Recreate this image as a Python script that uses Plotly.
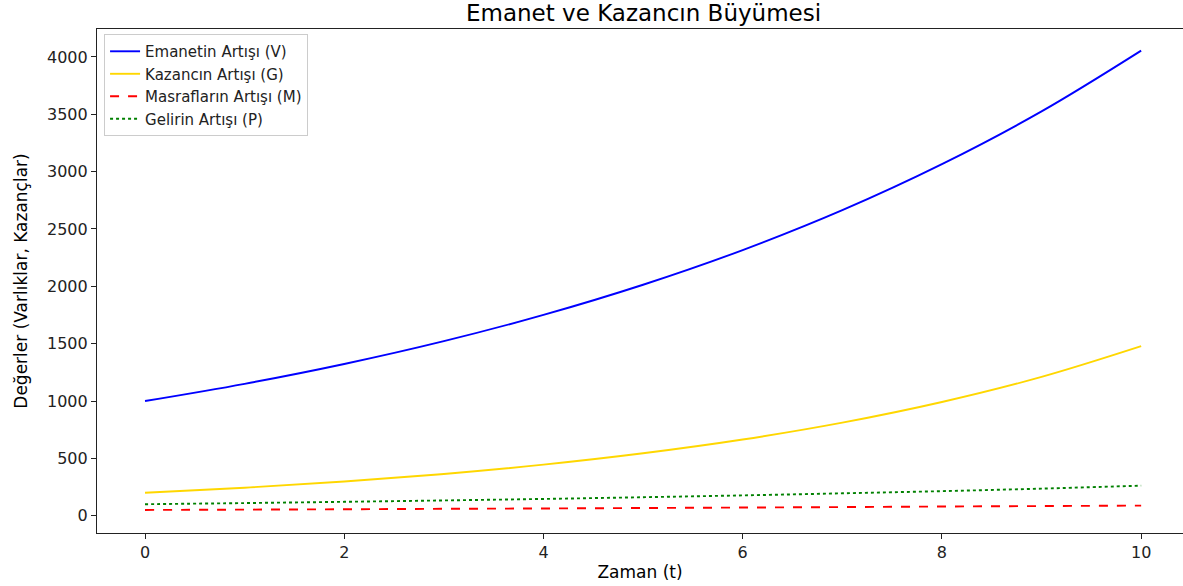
import plotly.graph_objects as go

t = [0, 1, 2, 3, 4, 5, 6, 7, 8, 9, 10]
V = [1000, 1150, 1323, 1522, 1751, 2014, 2316, 2664, 3065, 3525, 4055]
G = [200, 244, 298, 364, 445, 544, 664, 811, 991, 1210, 1478]
M = [50, 53, 56, 60, 63, 67, 71, 75, 80, 84, 88]
P = [100, 110, 121, 133, 146, 161, 177, 195, 214, 236, 262]

names = ["Emanetin Artışı (V)", "Kazancın Artışı (G)", "Masrafların Artışı (M)", "Gelirin Artışı (P)"]
colors = ["#0000ff", "#ffd700", "#ff0000", "#008000"]
dashes = ["solid", "solid", "dash", "dot"]

fig = go.Figure()
for ys, n, c, d in zip([V, G, M, P], names, colors, dashes):
    fig.add_trace(go.Scatter(x=t, y=ys, mode="lines", name=n,
                             line=dict(color=c, width=1.9, dash=d, shape="spline")))

tickfont = dict(family="DejaVu Sans", size=16, color="#222")

fig.update_layout(
    width=1183, height=586,
    margin=dict(l=97, r=0, t=29, b=53),
    paper_bgcolor="white", plot_bgcolor="white",
    font=dict(family="DejaVu Sans", color="black"),
    title=dict(text="Emanet ve Kazancın Büyümesi", x=0.544, xanchor="center",
               y=0.978, yanchor="middle", font=dict(size=23, color="black")),
    xaxis=dict(range=[-0.482, 10.42], tickvals=[0, 2, 4, 6, 8, 10],
               showgrid=False, zeroline=False, showline=True, linecolor="#222",
               linewidth=1.2, mirror=True, ticks="outside", ticklen=5, tickcolor="#222",
               tickfont=tickfont,
               title=dict(text="Zaman (t)", font=dict(size=17), standoff=4)),
    yaxis=dict(range=[-151, 4244], tickvals=[0, 500, 1000, 1500, 2000, 2500, 3000, 3500, 4000],
               showgrid=False, zeroline=False, showline=True, linecolor="#222",
               linewidth=1.2, mirror=False, ticks="outside", ticklen=5, tickcolor="#222",
               tickfont=tickfont,
               title=dict(text="Değerler (Varlıklar, Kazançlar)", font=dict(size=17), standoff=15)),
    legend=dict(x=0.0065, y=0.99, xanchor="left", yanchor="top",
                bgcolor="rgba(255,255,255,0.8)", bordercolor="#cccccc", borderwidth=1,
                font=dict(size=15, color="#222"), tracegroupgap=0),
    showlegend=True,
)

fig.write_html("out.html", config={"displayModeBar": False},
               post_script="document.body.style.margin='0px';document.body.style.overflow='hidden';")
